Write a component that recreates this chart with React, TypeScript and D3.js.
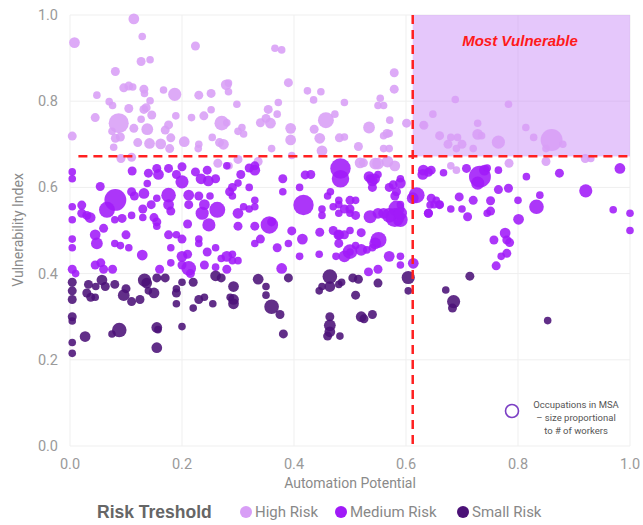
import React from "react";
import * as d3 from "d3";

// [automation potential, vulnerability index, workers (thousands)]
const highRisk: [number, number, number][] = [
  [0.114,0.991,2],[0.008,0.936,2],[0.129,0.95,1],[0.224,0.928,1.4],[0.127,0.892,1.4],[0.143,0.896,1],[0.081,0.869,1.4],[0.048,0.814,1],[0.096,0.831,1.4],[0.105,0.835,1.4],[0.112,0.833,1],[0.132,0.828,1.4],[0.133,0.818,1],[0.167,0.826,1],[0.187,0.816,3],[0.23,0.814,1.4],[0.252,0.818,1.4],[0.279,0.838,2],[0.283,0.842,1],[0.283,0.822,1],[0.298,0.793,1],[0.07,0.799,1],[0.076,0.79,1],[0.105,0.783,1.4],[0.045,0.762,1.4],[0.087,0.749,7],[0.132,0.781,1.4],[0.136,0.785,1.4],[0.143,0.801,1],[0.146,0.768,1.4],[0.127,0.758,1],[0.114,0.737,1.4],[0.138,0.735,2.4],[0.075,0.73,1],[0.081,0.714,1.4],[0.09,0.717,1.4],[0.004,0.719,1.4],[0.121,0.704,1.4],[0.142,0.702,2],[0.078,0.693,1],[0.091,0.667,1.4],[0.11,0.67,1.4],[0.162,0.701,2],[0.17,0.733,1.4],[0.176,0.745,1.4],[0.189,0.766,1],[0.18,0.715,1.4],[0.178,0.69,1.4],[0.204,0.706,2],[0.217,0.762,1],[0.239,0.766,1.4],[0.252,0.78,1],[0.254,0.716,1],[0.271,0.749,3.7],[0.28,0.75,1],[0.307,0.739,1],[0.267,0.704,1.4],[0.274,0.7,2],[0.23,0.7,1],[0.229,0.69,1],[0.264,0.656,1.4],[0.284,0.65,1],[0.3,0.665,1.4],[0.31,0.724,1],
  [0.366,0.923,1],[0.378,0.919,1],[0.39,0.843,1.4],[0.579,0.866,1.4],[0.579,0.828,1.4],[0.424,0.824,1],[0.448,0.822,1],[0.435,0.803,1],[0.372,0.797,1],[0.49,0.797,1],[0.554,0.807,1],[0.55,0.79,1],[0.56,0.79,1],[0.354,0.781,1.4],[0.37,0.77,1],[0.35,0.76,1.4],[0.358,0.749,2],[0.34,0.75,1.4],[0.457,0.756,4.4],[0.473,0.77,1],[0.394,0.737,2],[0.3,0.73,1],[0.436,0.735,1.4],[0.446,0.714,2],[0.394,0.71,2],[0.481,0.715,1.4],[0.49,0.717,1],[0.515,0.695,1.4],[0.534,0.739,2.4],[0.566,0.725,1.4],[0.56,0.72,1],[0.57,0.725,1],[0.571,0.756,1],[0.601,0.749,1.4],[0.56,0.69,1],[0.57,0.69,1],[0.45,0.685,2],[0.396,0.674,1],[0.36,0.69,1],[0.524,0.657,1.4],[0.567,0.66,2.4],[0.58,0.65,2],[0.336,0.66,1.4],[0.631,0.745,1],[0.648,0.77,1],[0.66,0.72,1.4],
  [0.688,0.804,1],[0.783,0.793,1],[0.632,0.744,1.4],[0.728,0.749,1],[0.814,0.739,1],[0.828,0.716,1],[0.728,0.723,2],[0.735,0.72,1],[0.765,0.705,3],[0.692,0.716,1],[0.68,0.716,1],[0.675,0.7,1.4],[0.7,0.7,1.4],[0.69,0.69,1],[0.86,0.71,8.3],[0.88,0.7,1],[0.85,0.69,1],[0.72,0.69,1],[0.784,0.656,1.4],[0.92,0.667,1.4],[0.93,0.667,1],[0.68,0.65,1],[0.69,0.64,1],[0.85,0.66,1.4],[0.518,0.657,2],[0.545,0.655,2.4],[0.55,0.655,2.4],
];

const mediumRisk: [number, number, number][] = [
  [0.483,0.644,7.2],[0.483,0.62,5.3],[0.33,0.65,1.4],[0.534,0.625,2],[0.54,0.615,2],[0.38,0.59,1],[0.55,0.63,1],[0.577,0.606,1.4],[0.59,0.61,2],[0.583,0.59,1.4],[0.619,0.582,4.4],[0.612,0.575,2.4],[0.631,0.64,2],[0.64,0.635,1.4],[0.667,0.634,1],[0.708,0.644,1.4],[0.732,0.625,8.3],[0.728,0.61,3],[0.74,0.64,2],[0.745,0.645,1],[0.765,0.64,1],[0.815,0.625,1],[0.874,0.633,1.4],[0.982,0.644,2],[0.783,0.598,1.4],[0.765,0.595,1.4],[0.839,0.582,1],[0.921,0.592,3],[0.8,0.57,1],[0.833,0.555,3.7],[0.751,0.569,1.4],[0.751,0.545,1.4],[0.745,0.54,1],[0.72,0.57,1.4],[0.695,0.578,1.4],[0.71,0.532,1.4],[0.7,0.55,1],[0.68,0.55,1],[0.643,0.559,1],[0.64,0.54,1.4],[0.66,0.56,1.4],[0.654,0.57,1],[0.801,0.526,2],[0.97,0.548,1],[1.0,0.54,1],[1.0,0.5,1],[0.777,0.494,2],[0.757,0.478,1.4],[0.78,0.478,1.4],[0.785,0.472,1.4],[0.78,0.447,1.4],[0.536,0.532,3],[0.583,0.551,4.4],[0.58,0.53,6.2],[0.59,0.525,3.7],[0.55,0.54,2],[0.51,0.535,1.4],[0.48,0.56,1],[0.51,0.57,1],[0.5,0.54,1],[0.48,0.54,1],[0.48,0.49,1.4],[0.49,0.49,1.4],[0.5,0.5,1],[0.551,0.478,4.4],[0.545,0.47,2.4],[0.54,0.46,1],[0.52,0.455,2.4],[0.5,0.45,1],
  [0.004,0.636,1],[0.004,0.62,1],[0.111,0.638,1.4],[0.14,0.633,1.4],[0.155,0.644,1.4],[0.158,0.63,2],[0.176,0.644,1.4],[0.19,0.63,1.4],[0.2,0.648,1.4],[0.2,0.613,3],[0.224,0.636,1.4],[0.245,0.64,1.4],[0.234,0.62,2],[0.247,0.615,2],[0.26,0.62,1.4],[0.28,0.65,1],[0.138,0.609,1],[0.054,0.602,1.4],[0.081,0.571,8.3],[0.066,0.548,4.4],[0.11,0.59,1.4],[0.115,0.58,1.4],[0.132,0.586,2],[0.13,0.55,1.4],[0.145,0.56,1.4],[0.155,0.575,1],[0.176,0.582,3.7],[0.176,0.56,2],[0.18,0.545,1.4],[0.212,0.582,2],[0.212,0.56,1.4],[0.23,0.58,1.4],[0.24,0.56,2],[0.25,0.58,1],[0.263,0.548,4.4],[0.236,0.54,3],[0.248,0.513,3],[0.285,0.59,1.4],[0.29,0.6,1.4],[0.29,0.58,1],[0.3,0.54,2],[0.3,0.51,1.4],[0.32,0.55,1],[0.33,0.64,2],[0.021,0.559,1.4],[0.021,0.54,1.4],[0.03,0.535,1.4],[0.036,0.53,2],[0.004,0.555,1],[0.004,0.525,1],[0.093,0.528,1.4],[0.08,0.525,1],[0.11,0.535,1],[0.13,0.53,1],[0.15,0.53,1.4],[0.155,0.52,1.4],[0.155,0.51,1],[0.21,0.515,1.4],[0.045,0.49,2],[0.048,0.47,2.4],[0.06,0.505,1.4],[0.1,0.49,1.4],[0.08,0.47,1],[0.09,0.465,1],[0.105,0.46,1],[0.129,0.443,2],[0.176,0.49,1.4],[0.19,0.49,1],[0.18,0.46,1],[0.2,0.48,1.4],[0.2,0.44,2],[0.21,0.445,1.4],[0.23,0.48,1],[0.23,0.47,1],[0.245,0.45,1.4],[0.26,0.46,1],[0.28,0.44,2],[0.29,0.445,1],[0.27,0.435,1],[0.004,0.48,1],[0.004,0.46,1],[0.33,0.47,1],[0.33,0.51,1.4],
  [0.417,0.559,7.2],[0.356,0.513,5.3],[0.36,0.52,1.4],[0.305,0.63,1.4],[0.32,0.645,1.4],[0.3,0.61,1],[0.32,0.6,1],[0.38,0.62,1.4],[0.42,0.629,1.4],[0.43,0.63,1.4],[0.41,0.6,1],[0.46,0.58,1],[0.465,0.59,1],[0.47,0.555,1],[0.45,0.55,1],[0.45,0.535,1],[0.48,0.57,1],[0.5,0.57,1.4],[0.49,0.55,1.4],[0.5,0.55,1.4],[0.396,0.499,1.4],[0.446,0.496,1.4],[0.415,0.48,2],[0.37,0.46,1.4],[0.34,0.48,1.4],[0.47,0.5,1.4],[0.48,0.49,2],[0.48,0.47,1.4],[0.5,0.451,3.7],[0.51,0.465,1],[0.52,0.495,1.4],[0.536,0.62,1.4],[0.544,0.62,2],[0.54,0.6,1.4],[0.57,0.6,1.4],[0.58,0.58,1.4],[0.59,0.62,1],[0.57,0.535,3.7],[0.59,0.54,3],[0.56,0.54,2],[0.59,0.56,1],[0.64,0.54,1.4],[0.645,0.575,1.4],[0.65,0.56,1],[0.66,0.56,1],[0.63,0.63,2],[0.645,0.64,1.4],[0.57,0.44,2],[0.53,0.455,1],[0.41,0.44,1],[0.445,0.445,1],[0.39,0.47,1],[0.33,0.57,1],[0.33,0.555,1],[0.31,0.555,1],[0.475,0.44,1],[0.49,0.44,2.4],[0.59,0.44,1],
  [0.045,0.42,1.4],[0.055,0.425,1.4],[0.06,0.41,1.4],[0.076,0.41,1.4],[0.16,0.41,1.4],[0.18,0.425,1],[0.2,0.42,1.4],[0.212,0.412,3.7],[0.215,0.4,1.4],[0.24,0.42,1.4],[0.26,0.415,1],[0.28,0.41,1.4],[0.29,0.43,1],[0.3,0.43,1],[0.004,0.41,1.4],[0.01,0.4,1],[0.378,0.412,2],[0.533,0.404,1.4],[0.59,0.42,1],[0.613,0.424,2],[0.761,0.418,1.4],[0.77,0.44,1],[0.55,0.41,1.4],
];

const smallRisk: [number, number, number][] = [
  [0.057,0.385,2],[0.046,0.37,1],[0.033,0.375,1.4],[0.004,0.38,1.4],[0.004,0.36,1.4],[0.004,0.34,1.4],[0.03,0.355,1.4],[0.037,0.345,1.4],[0.045,0.345,1],[0.063,0.37,1.4],[0.08,0.375,1.4],[0.096,0.35,2.4],[0.1,0.365,1.4],[0.11,0.335,1.4],[0.125,0.34,1.4],[0.133,0.385,3],[0.137,0.378,2],[0.14,0.36,1],[0.15,0.355,2],[0.155,0.39,1.4],[0.17,0.39,1.4],[0.19,0.355,1.4],[0.19,0.365,1],[0.2,0.38,1],[0.19,0.33,1],[0.22,0.38,1.4],[0.23,0.34,1.4],[0.24,0.345,1],[0.255,0.33,1],[0.22,0.32,1],[0.26,0.395,2],[0.27,0.39,1.4],[0.292,0.37,2],[0.292,0.34,2],[0.292,0.33,2],[0.286,0.345,1],[0.004,0.3,1.4],[0.004,0.29,1],[0.027,0.254,2],[0.075,0.26,1],[0.088,0.269,3.7],[0.155,0.275,2],[0.157,0.27,1],[0.2,0.277,1],[0.155,0.228,2],[0.004,0.215,1],[0.004,0.24,1],
  [0.336,0.387,2],[0.35,0.37,1],[0.35,0.35,1],[0.36,0.323,3.7],[0.375,0.305,1.4],[0.381,0.26,1.4],[0.39,0.39,1.4],[0.464,0.393,3.7],[0.464,0.37,2],[0.45,0.37,1],[0.445,0.36,1],[0.48,0.375,1],[0.485,0.38,1],[0.505,0.39,1.4],[0.515,0.387,1.4],[0.55,0.378,1.4],[0.51,0.35,1.4],[0.464,0.3,1.4],[0.464,0.28,2.4],[0.464,0.265,2],[0.46,0.255,1.4],[0.482,0.255,1],[0.52,0.3,2],[0.525,0.295,1.4],[0.54,0.305,1.4],[0.604,0.391,3],[0.604,0.36,1],[0.671,0.362,1],[0.685,0.335,3],[0.683,0.32,1.4],[0.714,0.394,1.4],[0.853,0.291,1],
];

const tickValues = [0, 0.2, 0.4, 0.6, 0.8, 1.0];
const automationThreshold = 0.612;
const vulnerabilityThreshold = 0.672;
const legendLabels = ["High Risk", "Medium Risk", "Small Risk"];
const seriesColors = ["#d89ef6", "#a01af8", "#4b1177"];

const W = 643, H = 525;
const M = { left: 70, right: 13, top: 15, bottom: 79 };

export default function App() {
  const x = d3.scaleLinear().domain([0, 1]).range([M.left, W - M.right]);
  const y = d3.scaleLinear().domain([0, 1]).range([H - M.bottom, M.top]);
  const r = d3.scaleSqrt().domain([0, 9]).range([0, 11.4]);
  const font = "Roboto, 'Liberation Sans', Arial, sans-serif";
  const series = [highRisk, mediumRisk, smallRisk];
  const legendX = [246, 341, 463];

  return (
    <svg width={W} height={H} style={{ position: "absolute", left: 0, top: 0, background: "#fff" }} fontFamily={font}>
      {tickValues.map((t) => (
        <g key={"g" + t}>
          <line x1={x(t)} x2={x(t)} y1={y(0)} y2={y(1)} stroke="#efefef" strokeWidth={1} />
          <line x1={x(0)} x2={x(1)} y1={y(t)} y2={y(t)} stroke="#efefef" strokeWidth={1} />
        </g>
      ))}
      <rect x={x(automationThreshold)} y={y(1)} width={x(1) - x(automationThreshold)} height={y(vulnerabilityThreshold) - y(1)} fill="#c98af7" fillOpacity={0.48} />
      {series.map((s, i) => (
        <g key={"s" + i}>
          {s.map((d, j) => (
            <circle key={j} cx={x(d[0])} cy={y(d[1])} r={r(d[2])} fill={seriesColors[i]} fillOpacity={0.88} />
          ))}
        </g>
      ))}
      <line x1={x(0.015)} x2={x(1)} y1={y(vulnerabilityThreshold)} y2={y(vulnerabilityThreshold)} stroke="#ff2020" strokeWidth={2.5} strokeDasharray="9,6" />
      <line x1={x(automationThreshold)} x2={x(automationThreshold)} y1={y(1)} y2={y(0)} stroke="#ff2020" strokeWidth={2.5} strokeDasharray="9,6" />
      <text x={520} y={46} textAnchor="middle" fill="#ff1a1a" fontSize={15} fontWeight="bold" fontStyle="italic" fontFamily="'Liberation Sans', Arial, sans-serif">Most Vulnerable</text>
      {tickValues.map((t) => (
        <text key={"y" + t} x={x(0) - 12} y={y(t)} dy="0.35em" textAnchor="end" fill="#9a9a9a" fontSize={14.5}>{t.toFixed(1)}</text>
      ))}
      {tickValues.map((t) => (
        <text key={"x" + t} x={x(t)} y={y(0) + 18} dy="0.35em" textAnchor="middle" fill="#9a9a9a" fontSize={14.5}>{t.toFixed(1)}</text>
      ))}
      <text x={350} y={483} dy="0.35em" textAnchor="middle" fill="#8a8a8a" fontSize={14}>Automation Potential</text>
      <text transform={`translate(18,230) rotate(-90)`} dy="0.35em" textAnchor="middle" fill="#8a8a8a" fontSize={14}>Vulnerability Index</text>
      <circle cx={512} cy={411} r={6.5} fill="none" stroke="#7b3fc4" strokeWidth={1.6} />
      <text x={576} y={408} textAnchor="middle" fill="#555" fontSize={9.5}>
        <tspan x={576} dy="0">Occupations in MSA</tspan>
        <tspan x={576} dy="13">– size proportional</tspan>
        <tspan x={576} dy="13">to # of workers</tspan>
      </text>
      <text x={97} y={512} dy="0.35em" fill="#666" fontSize={17.5} fontWeight="bold" fontFamily="'Liberation Sans', Arial, sans-serif">Risk Treshold</text>
      {legendLabels.map((l, i) => (
        <g key={l}>
          <circle cx={legendX[i]} cy={512} r={6} fill={seriesColors[i]} />
          <text x={legendX[i] + 9} y={512} dy="0.35em" fill="#888" fontSize={15}>{l}</text>
        </g>
      ))}
    </svg>
  );
}
